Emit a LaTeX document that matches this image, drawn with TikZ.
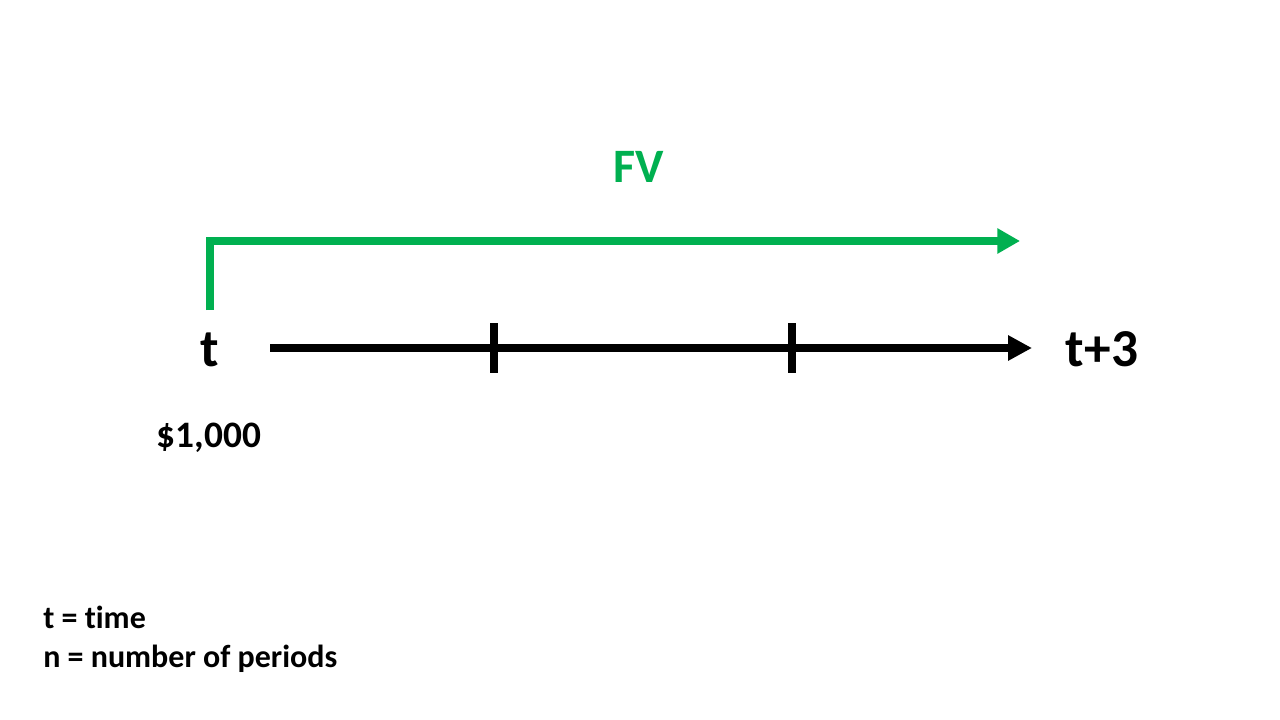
\documentclass[tikz,border=0pt]{standalone}
\usepackage{fontspec}
\setmainfont{Carlito}[Ligatures={NoCommon}]
\usetikzlibrary{arrows.meta}
\definecolor{fvgreen}{HTML}{00B050}
\tikzset{
  lbl/.style={font=\bfseries, anchor=base, inner sep=0pt},
  axis/.style={line width=6pt, -{Triangle[length=18pt,width=18pt]}},
  tickmark/.style={line width=6pt},
  fvarrow/.style={line width=6pt, fvgreen, line join=miter, -{Triangle[length=17pt,width=18pt]}}
}
\begin{document}
\begin{tikzpicture}[x=0.75pt,y=-0.75pt]
\useasboundingbox (0,0) rectangle (1280,720);
\fill[white] (0,0) rectangle (1280,720);
% labels
\node[lbl, font=\bfseries\fontsize{40}{48}\selectfont] (t) at (210,366) {t};
\node[lbl, font=\bfseries\fontsize{40}{48}\selectfont] (t3) at (1102,366) {t+3};
\node[lbl, font=\bfseries\fontsize{36}{43}\selectfont, text=fvgreen] (fv) at (639,183) {FV};
\node[lbl, font=\bfseries\fontsize{28}{34}\selectfont] (amt) at (209,447) {\$1,000};
\node[lbl, anchor=base west, font=\bfseries\fontsize{24}{29}\selectfont] (leg1) at (43,628) {t = time};
\node[lbl, anchor=base west, font=\bfseries\fontsize{24}{29}\selectfont] (leg2) at (43,667) {n = number of periods};
% axis
\coordinate (a0) at (270,348);
\coordinate (a1) at (1032,348);
\draw[axis] (a0) -- (a1);
\coordinate (k1t) at (494,323);
\coordinate (k1b) at (494,373);
\coordinate (k2t) at (792,323);
\coordinate (k2b) at (792,373);
\draw[tickmark] (k1t) -- (k1b);
\draw[tickmark] (k2t) -- (k2b);
% FV arrow
\coordinate (g0) at (210,310);
\coordinate (g1) at (210,241);
\coordinate (g2) at (1020,241);
\draw[fvarrow] (g0) -- (g1) -- (g2);
\end{tikzpicture}
\end{document}
